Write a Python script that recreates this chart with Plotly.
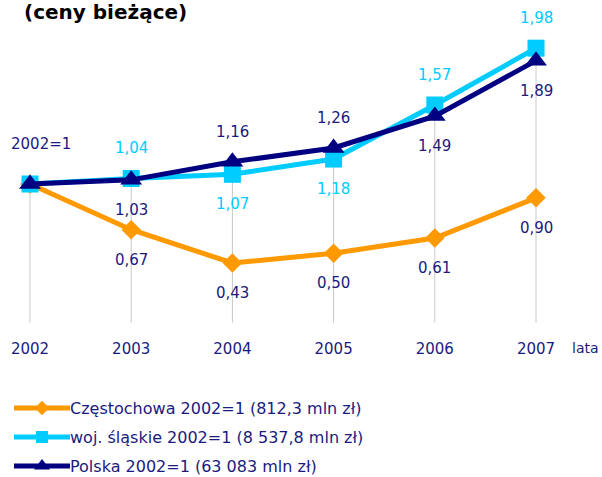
import plotly.graph_objects as go

years = [2002, 2003, 2004, 2005, 2006, 2007]
czestochowa = [1.00, 0.67, 0.43, 0.50, 0.61, 0.90]
slaskie = [1.00, 1.04, 1.07, 1.18, 1.57, 1.98]
polska = [1.00, 1.03, 1.16, 1.26, 1.49, 1.89]

labels_cz = ["", "0,67", "0,43", "0,50", "0,61", "0,90"]
labels_sl = ["", "1,04", "1,07", "1,18", "1,57", "1,98"]
labels_pl = ["2002=1", "1,03", "1,16", "1,26", "1,49", "1,89"]
pos_cz = ["", "below", "below", "below", "below", "below"]
pos_sl = ["", "above", "below", "below", "above", "above"]
pos_pl = ["above", "below", "above", "above", "below", "below"]

legend_names = [
    "Częstochowa 2002=1 (812,3 mln zł)",
    "woj. śląskie 2002=1 (8 537,8 mln zł)",
    "Polska 2002=1 (63 083 mln zł)",
]
title_text = "(ceny bieżące)"
axis_unit = "lata"

ORANGE = "#FF9900"
CYAN = "#00CCFF"
NAVY = "#000080"
TEXT = "#1A1A80"
FONT = "DejaVu Sans"

fig = go.Figure()

# drop lines
dx, dy = [], []
for i, yr in enumerate(years):
    dx += [yr, yr, None]
    dy += [0, max(czestochowa[i], slaskie[i], polska[i]), None]
fig.add_trace(go.Scatter(x=dx, y=dy, mode="lines",
                         line=dict(color="#C8C8C8", width=1), hoverinfo="skip"))

series = [
    (czestochowa, ORANGE, "diamond", 15, 5, 11),
    (slaskie, CYAN, "square", 17, 5, 12),
    (polska, NAVY, "triangle-up", 19, 5, 14),
]
for vals, col, sym, sz, lw, lsz in series:
    fig.add_trace(go.Scatter(x=years, y=vals, mode="lines+markers",
                             line=dict(color=col, width=lw),
                             marker=dict(symbol=sym, size=sz, color=col)))

def add_labels(vals, labels, positions, color):
    for yr, v, lab, p in zip(years, vals, labels, positions):
        if not lab:
            continue
        ys = 30 if p == "above" else -30
        xs = 0
        if lab == "2002=1":
            ys, xs = 40, 11
        fig.add_annotation(x=yr, y=v, text=lab, showarrow=False,
                           yshift=ys, xshift=xs,
                           font=dict(family=FONT, size=15, color=color))

add_labels(czestochowa, labels_cz, pos_cz, TEXT)
add_labels(slaskie, labels_sl, pos_sl, CYAN)
add_labels(polska, labels_pl, pos_pl, TEXT)

# legend drawn in second axes
leg_y = [3, 2, 1]
for (vals, col, sym, sz, lw, lsz), ly, name in zip(series, leg_y, legend_names):
    fig.add_trace(go.Scatter(x=[0, 1, 2], y=[ly, ly, ly], mode="lines",
                             line=dict(color=col, width=lw),
                             xaxis="x2", yaxis="y2", hoverinfo="skip"))
    fig.add_trace(go.Scatter(x=[1], y=[ly], mode="markers",
                             marker=dict(symbol=sym, size=lsz, color=col),
                             xaxis="x2", yaxis="y2", hoverinfo="skip"))
    fig.add_annotation(x=2, y=ly, xref="x2", yref="y2", text=name,
                       showarrow=False, xanchor="left", xshift=-2,
                       font=dict(family=FONT, size=16, color=TEXT))

fig.add_annotation(x=22 / 602, y=1 - 12 / 477, xref="paper", yref="paper",
                   text="<b>" + title_text + "</b>", showarrow=False,
                   xanchor="left", yanchor="middle",
                   font=dict(family=FONT, size=20, color="#000000"))
fig.add_annotation(x=601 / 602, y=1 - 348 / 477, xref="paper", yref="paper",
                   text=axis_unit, showarrow=False, xanchor="right",
                   yanchor="middle",
                   font=dict(family=FONT, size=14, color=TEXT))

W, H = 602, 477
px_per_year = (536 - 30) / 5
x0 = 2002 - 30 / px_per_year
x1 = x0 + W / px_per_year
ppu = (263 - 184) / (1 - 0.43)
plot_bottom = 325
ylo = 1 - (plot_bottom - 184) / ppu
yhi = 1 + 184 / ppu

# legend axes: pixel rows 393..477, items at 408, 437, 466
leg_ppu = 29
leg_lo = 1 - (477 - 466) / leg_ppu
leg_hi = 3 + (408 - 393) / leg_ppu

fig.update_layout(
    width=W, height=H, showlegend=False,
    margin=dict(l=0, r=0, t=0, b=0),
    paper_bgcolor="white", plot_bgcolor="white",
    xaxis=dict(range=[x0, x1], tickvals=years, ticktext=[str(y) for y in years],
               showgrid=False, zeroline=False, showline=False, ticks="",
               ticklabelstandoff=13,
               tickfont=dict(family=FONT, size=15, color=TEXT),
               domain=[0, 1], anchor="y", fixedrange=True),
    yaxis=dict(range=[ylo, yhi], domain=[1 - plot_bottom / H, 1],
               showgrid=False, zeroline=False, showticklabels=False,
               showline=False, fixedrange=True),
    xaxis2=dict(range=[-14 / 28, (W - 14) / 28], domain=[0, 1], anchor="y2",
                visible=False, fixedrange=True),
    yaxis2=dict(range=[leg_lo, leg_hi], domain=[0, 1 - 393 / H],
                visible=False, fixedrange=True),
)

fig.write_html("out.html", config={"displayModeBar": False},
               post_script="document.body.style.margin='0';"
                           "document.body.style.overflow='hidden';")
